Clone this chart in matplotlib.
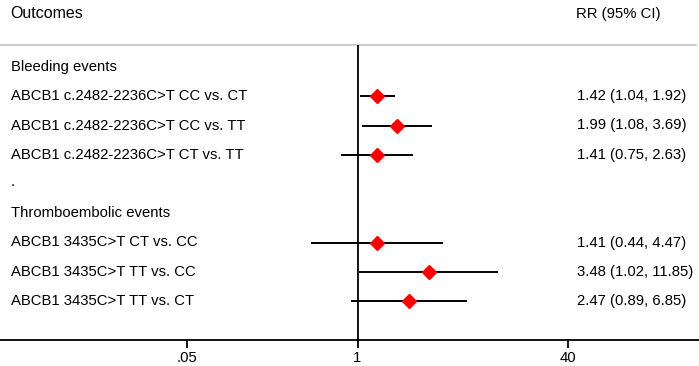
import matplotlib
matplotlib.use("Agg")
import matplotlib.pyplot as plt
import numpy as np

plt.rcParams['font.family'] = ['Liberation Sans', 'DejaVu Sans']

# ---- data ----
group_titles = ["Bleeding events", "Thromboembolic events"]
labels_bleeding = ["ABCB1 c.2482-2236C>T CC vs. CT",
                   "ABCB1 c.2482-2236C>T CC vs. TT",
                   "ABCB1 c.2482-2236C>T CT vs. TT"]
rr_bleeding = [1.42, 1.99, 1.41]
lo_bleeding = [1.04, 1.08, 0.75]
hi_bleeding = [1.92, 3.69, 2.63]
text_bleeding = ["1.42 (1.04, 1.92)", "1.99 (1.08, 3.69)", "1.41 (0.75, 2.63)"]

labels_thrombo = ["ABCB1 3435C>T CT vs. CC",
                  "ABCB1 3435C>T TT vs. CC",
                  "ABCB1 3435C>T TT vs. CT"]
rr_thrombo = [1.41, 3.48, 2.47]
lo_thrombo = [0.44, 1.02, 0.89]
hi_thrombo = [4.47, 11.85, 6.85]
text_thrombo = ["1.41 (0.44, 4.47)", "3.48 (1.02, 11.85)", "2.47 (0.89, 6.85)"]

tick_values = [0.05, 1, 40]
tick_labels = [".05", "1", "40"]

# ---- layout ----
W, H = 699, 366
fig = plt.figure(figsize=(W / 100, H / 100), dpi=100)
axis_y = 340
ax = fig.add_axes([0, (H - axis_y) / H, 1, axis_y / H])
ax.set_xscale('log')
px_per_dec = 131.3
x_one = 357.5
ax.set_xlim(10 ** (-x_one / px_per_dec), 10 ** ((W - x_one) / px_per_dec))
ax.set_ylim(axis_y, 0)

for s in ['top', 'left', 'right']:
    ax.spines[s].set_visible(False)
ax.spines['bottom'].set_linewidth(1.3)
ax.set_yticks([])
ax.set_xticks(tick_values)
ax.set_xticklabels(tick_labels)
ax.minorticks_off()
ax.tick_params(axis='x', length=6, width=1.3, labelsize=10.7, pad=2, colors='black')

fs = 10.7
left_x = 11 / W
right_x = 577 / W
trans = ax.get_yaxis_transform()  # x in axes, y in data

# header
ax.text(10 / W, 14, "Outcomes", transform=trans, fontsize=11.5, va='center', ha='left')
ax.text(576 / W, 14, "RR (95% CI)", transform=trans, fontsize=fs, va='center', ha='left')
ax.axhline(45, xmax=696 / W, color='#c8c8c8', lw=1.3, zorder=1)
ax.vlines(1, 45, axis_y, color='black', lw=1.3, zorder=2)

row_start = 67.0
row_step = 29.25

groups = [
    (group_titles[0], labels_bleeding, rr_bleeding, lo_bleeding, hi_bleeding, text_bleeding),
    (group_titles[1], labels_thrombo, rr_thrombo, lo_thrombo, hi_thrombo, text_thrombo),
]
i = 0
for gi, (title, labs, rr, lo, hi, txt) in enumerate(groups):
    y = row_start + i * row_step
    ax.text(left_x, y, title, transform=trans, fontsize=fs, va='center', ha='left')
    i += 1
    for lab, r, l, h, t in zip(labs, rr, lo, hi, txt):
        y = row_start + i * row_step
        ax.text(left_x, y, lab, transform=trans, fontsize=fs, va='center', ha='left')
        ax.text(right_x, y, t, transform=trans, fontsize=fs, va='center', ha='left')
        ax.hlines(y, l, h, color='black', lw=1.4, zorder=3)
        ax.plot([r], [y], marker='D', color='red', ms=7, mec='red', zorder=4)
        i += 1
    if gi == 0:
        y = row_start + i * row_step
        ax.text(left_x, y - 2, ".", transform=trans, fontsize=fs, va='center', ha='left')
        i += 1

fig.savefig("out.png", dpi=100)
